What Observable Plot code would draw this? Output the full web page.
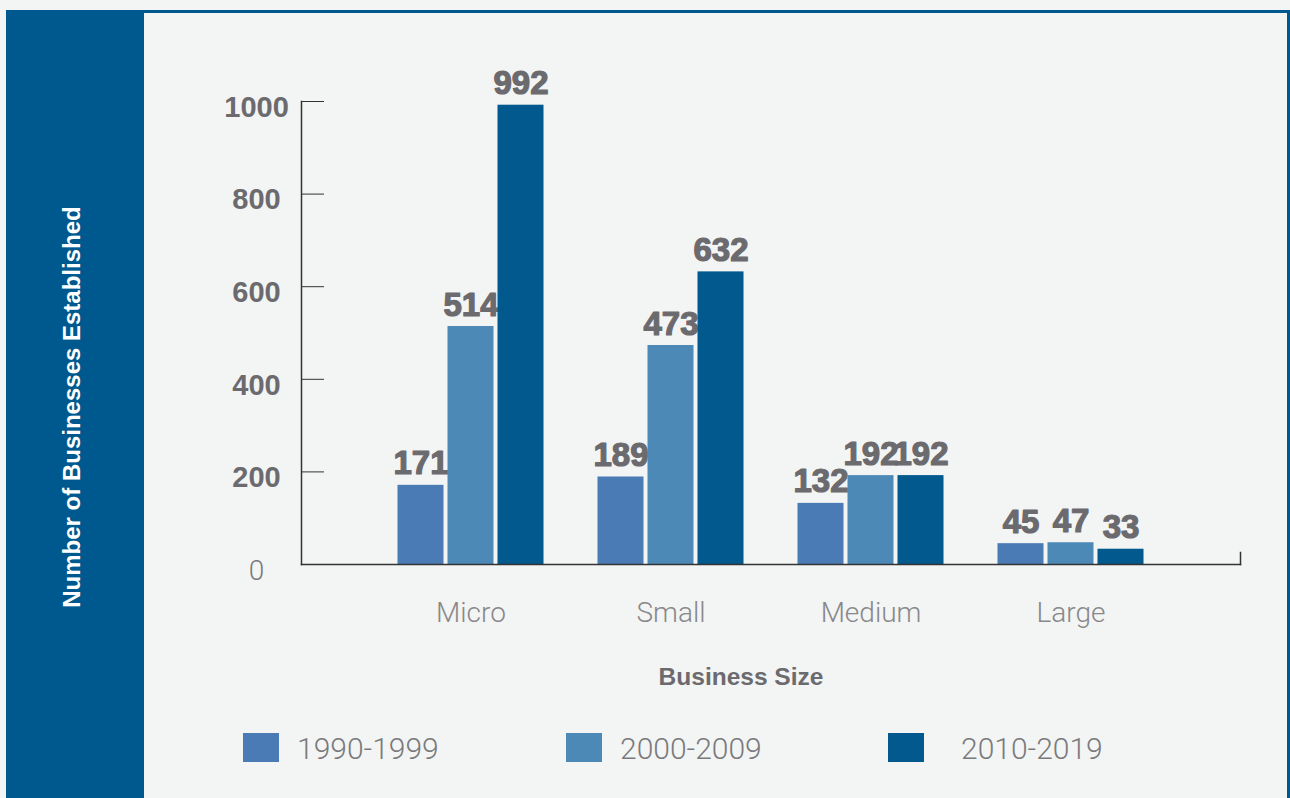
<!DOCTYPE html>
<html><head><meta charset="utf-8">
<script src="https://cdn.jsdelivr.net/npm/d3@7"></script>
<script src="https://cdn.jsdelivr.net/npm/@observablehq/plot@0.6"></script>
<style>
body{margin:0;width:1290px;height:798px;overflow:hidden;background:#f3f4f4;font-family:"Liberation Sans",Arial,sans-serif;position:relative}
#band{position:absolute;left:6px;top:10px;width:138px;height:788px;background:#00598e}
#topline{position:absolute;left:6px;top:10px;width:1284px;height:3px;background:#00598e}
#rightline{position:absolute;left:1287px;top:10px;width:3px;height:788px;background:#00598e}
#ylab{position:absolute;left:72px;top:407px;transform:translate(-50%,-50%) rotate(-90deg);color:#fff;font-weight:bold;font-size:24px;white-space:nowrap}
#chart{position:absolute;left:0;top:0}
#xlab{position:absolute;left:741px;top:677px;transform:translate(-50%,-50%);color:#6b6a6e;font-weight:bold;font-size:24.5px;white-space:nowrap}
.sw{position:absolute;top:733px;width:36px;height:29px}
.lt{position:absolute;top:748px;transform:translateY(-50%);font-family:Roboto,"Liberation Sans",sans-serif;font-weight:300;font-size:30px;color:#7a7a7c;white-space:nowrap}
</style></head>
<body>
<div id="band"></div><div id="topline"></div><div id="rightline"></div>
<div id="ylab">Number of Businesses Established</div>
<div id="chart"></div>
<div id="xlab">Business Size</div>
<div id="legend"></div>
<script>
const sizes = ["Micro","Small","Medium","Large"];
const periods = ["1990-1999","2000-2009","2010-2019"];
const v1990 = [171,189,132,45];
const v2000 = [514,473,192,47];
const v2010 = [992,632,192,33];
const colors = ["#4a7bb5","#4d89b7","#01598e"];
const yTicks = [0,200,400,600,800,1000];
const barOffsets = [-50, 0, 50]; // grouped-bar offset within each size band (px)

const series = [v1990, v2000, v2010];
const data = sizes.flatMap((s,i)=>periods.map((p,j)=>({size:s, period:p, value:series[j][i]})));

const font = "Liberation Sans, Arial, sans-serif";
const barMarks = periods.flatMap((p,j)=>{
  const sub = data.filter(d=>d.period===p);
  return [
    Plot.barY(sub,{x:"size",y:"value",fill:"period",dx:barOffsets[j]}),
    Plot.text(sub,{x:"size",y:"value",text:d=>String(d.value),dx:barOffsets[j],lineAnchor:"bottom",dy:-11,fontSize:33,fontWeight:"bold",fill:"#6b6a6e",stroke:"#6b6a6e",strokeWidth:1.2,fontFamily:font})
  ];
});

const chart = Plot.plot({
  width:1290, height:640, marginLeft:301, marginRight:50, marginTop:101, marginBottom:76,
  style:{background:"transparent", overflow:"visible"},
  x:{domain:sizes, paddingInner:0.77, paddingOuter:0.7325, round:false, label:null},
  y:{domain:[0,1000]},
  color:{domain:periods, range:colors},
  marks:[
    ...barMarks,
    Plot.axisY({ticks:yTicks, tickSize:-23, tickFormat:()=>"", stroke:"#333", label:null}),
    Plot.axisY({ticks:yTicks.filter(t=>t>0), tickSize:0, tickPadding:45, textAnchor:"middle", tickFormat:d=>String(d), dy:6, fontSize:29, fontWeight:"bold", fill:"#6b6a6e", label:null, fontFamily:font}),
    Plot.axisY({ticks:[0], tickSize:0, tickPadding:45, textAnchor:"middle", tickFormat:d=>String(d), dy:7, fontSize:28, fontWeight:300, fill:"#7a7a7c", label:null, fontFamily:"Roboto, sans-serif"}),
    Plot.axisX({anchor:"bottom", tickSize:0, tickPadding:38, fontSize:28, fontWeight:300, fill:"#88888a", label:null, fontFamily:"Roboto, sans-serif"}),
    Plot.frame({anchor:"left", stroke:"#333", strokeWidth:1.5}),
    Plot.frame({anchor:"bottom", stroke:"#333", strokeWidth:1.5}),
    Plot.frame({anchor:"right", insetTop:451, stroke:"#333", strokeWidth:1.5})
  ]
});
document.getElementById("chart").appendChild(chart);

const legendX = [243, 566, 888];
const textX = [297, 620, 961];
const leg = document.getElementById("legend");
periods.forEach((p,i)=>{
  const s = document.createElement("div"); s.className="sw"; s.style.left=legendX[i]+"px"; s.style.background=colors[i]; leg.appendChild(s);
  const t = document.createElement("div"); t.className="lt"; t.style.left=textX[i]+"px"; t.textContent=p; leg.appendChild(t);
});
</script>
</body></html>
